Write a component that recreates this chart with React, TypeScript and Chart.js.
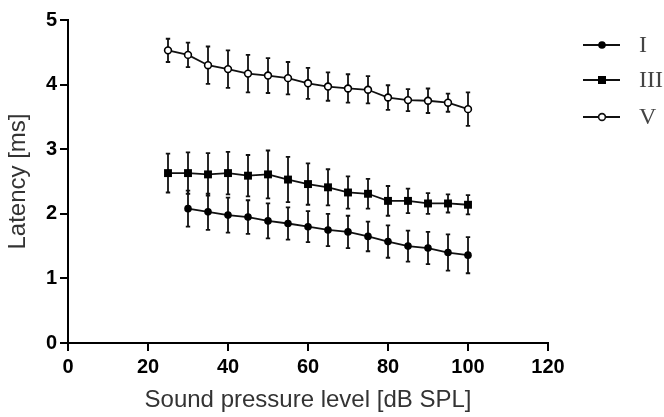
import React, { useEffect, useRef } from "react";
import { Chart, registerables } from "chart.js";

Chart.register(...registerables);

const levels = [25, 30, 35, 40, 45, 50, 55, 60, 65, 70, 75, 80, 85, 90, 95, 100];
const waveI = [null, 2.08, 2.03, 1.98, 1.95, 1.89, 1.85, 1.8, 1.75, 1.72, 1.65, 1.57, 1.5, 1.47, 1.4, 1.36];
const errI = [null, 0.28, 0.28, 0.27, 0.26, 0.27, 0.25, 0.24, 0.25, 0.25, 0.23, 0.25, 0.24, 0.25, 0.28, 0.28];
const waveIII = [2.63, 2.63, 2.61, 2.63, 2.59, 2.61, 2.53, 2.46, 2.41, 2.33, 2.31, 2.2, 2.2, 2.16, 2.16, 2.14];
const errIII = [0.3, 0.32, 0.33, 0.33, 0.32, 0.37, 0.35, 0.32, 0.28, 0.25, 0.23, 0.23, 0.19, 0.16, 0.14, 0.15];
const waveV = [4.53, 4.46, 4.3, 4.24, 4.17, 4.14, 4.1, 4.02, 3.97, 3.94, 3.92, 3.8, 3.76, 3.75, 3.72, 3.62];
const errV = [0.18, 0.19, 0.29, 0.29, 0.29, 0.27, 0.25, 0.24, 0.22, 0.22, 0.21, 0.19, 0.17, 0.19, 0.14, 0.26];
const seriesNames = ["I", "III", "V"];
const xTitle = "Sound pressure level [dB SPL]";
const yTitle = "Latency [ms]";

const SANS = "'Liberation Sans', Arial, sans-serif";

const toPoints = (vals: (number | null)[]) =>
  levels.map((x, i) => ({ x, y: vals[i] })).filter((p) => p.y !== null);

const errorBarPlugin = {
  id: "errorBars",
  beforeDatasetsDraw(chart: any) {
    const { ctx, scales } = chart;
    const xs = scales.x;
    const ys = scales.y;
    const sets = [
      [waveI, errI],
      [waveIII, errIII],
      [waveV, errV],
    ];
    ctx.save();
    ctx.strokeStyle = "#111";
    ctx.lineWidth = 1.8;
    sets.forEach(([vals, errs]) => {
      levels.forEach((lv, i) => {
        const v = vals[i];
        const e = errs[i];
        if (v === null || e === null) return;
        const px = xs.getPixelForValue(lv);
        const top = ys.getPixelForValue((v as number) + (e as number));
        const bot = ys.getPixelForValue((v as number) - (e as number));
        ctx.beginPath();
        ctx.moveTo(px, top);
        ctx.lineTo(px, bot);
        ctx.moveTo(px - 2.2, top);
        ctx.lineTo(px + 2.2, top);
        ctx.moveTo(px - 2.2, bot);
        ctx.lineTo(px + 2.2, bot);
        ctx.stroke();
      });
    });
    ctx.restore();
  },
};

const legendPlugin = {
  id: "customLegend",
  afterDraw(chart: any) {
    const { ctx } = chart;
    const rows = [45, 80, 117];
    ctx.save();
    rows.forEach((y, i) => {
      ctx.strokeStyle = "#111";
      ctx.lineWidth = 1.8;
      ctx.beginPath();
      ctx.moveTo(583, y);
      ctx.lineTo(620, y);
      ctx.stroke();
      const cx = 602;
      ctx.beginPath();
      if (i === 0) {
        ctx.fillStyle = "#000";
        ctx.arc(cx, y, 3.8, 0, Math.PI * 2);
        ctx.fill();
      } else if (i === 1) {
        ctx.fillStyle = "#000";
        ctx.fillRect(cx - 4, y - 4, 8, 8);
      } else {
        ctx.fillStyle = "#fff";
        ctx.lineWidth = 1.6;
        ctx.arc(cx, y, 3.4, 0, Math.PI * 2);
        ctx.fill();
        ctx.stroke();
      }
      ctx.fillStyle = "#444";
      ctx.font = "24px 'Liberation Serif', 'DejaVu Serif', serif";
      ctx.textAlign = "left";
      ctx.textBaseline = "middle";
      ctx.fillText(seriesNames[i], 639, y + 1);
    });
    ctx.restore();
  },
};

export default function App() {
  const ref = useRef<HTMLCanvasElement | null>(null);
  useEffect(() => {
    if (!ref.current) return;
    const common = {
      borderColor: "#111",
      borderWidth: 1.8,
      pointBorderColor: "#000",
      showLine: true,
      tension: 0,
    };
    const chart = new Chart(ref.current, {
      type: "line",
      data: {
        datasets: [
          {
            ...common,
            label: seriesNames[0],
            data: toPoints(waveI) as any,
            pointStyle: "circle",
            pointRadius: 3.8,
            pointBackgroundColor: "#000",
            pointBorderWidth: 0,
          },
          {
            ...common,
            label: seriesNames[1],
            data: toPoints(waveIII) as any,
            pointStyle: "rect",
            pointRadius: 5.6,
            pointBackgroundColor: "#000",
            pointBorderWidth: 0,
          },
          {
            ...common,
            label: seriesNames[2],
            data: toPoints(waveV) as any,
            pointStyle: "circle",
            pointRadius: 3.4,
            pointBackgroundColor: "#fff",
            pointBorderWidth: 1.6,
          },
        ],
      },
      options: {
        animation: false,
        responsive: true,
        maintainAspectRatio: false,
        layout: { padding: { top: 20, right: 116, left: 0, bottom: 0 } },
        plugins: { legend: { display: false }, tooltip: { enabled: false } },
        scales: {
          x: {
            type: "linear",
            min: 0,
            max: 120,
            ticks: {
              stepSize: 20,
              color: "#000",
              font: { family: SANS, size: 20, weight: "bold" },
              padding: 4,
              maxRotation: 0,
            },
            grid: { display: true, drawOnChartArea: false, drawTicks: true, tickLength: 8, color: "#000", lineWidth: 2 },
            border: { display: true, color: "#000", width: 2 },
            title: {
              display: true,
              text: xTitle,
              color: "#333",
              font: { family: SANS, size: 24 },
              padding: { top: 0, bottom: 2 },
            },
            afterFit: (s: any) => {
              s.height = 74;
            },
          },
          y: {
            min: 0,
            max: 5,
            ticks: {
              stepSize: 1,
              color: "#000",
              font: { family: SANS, size: 20, weight: "bold" },
              padding: 3,
            },
            grid: { display: true, drawOnChartArea: false, drawTicks: true, tickLength: 8, color: "#000", lineWidth: 2 },
            border: { display: true, color: "#000", width: 2 },
            title: {
              display: true,
              text: yTitle,
              color: "#333",
              font: { family: SANS, size: 24 },
              padding: { top: 4, bottom: 0 },
            },
            afterFit: (s: any) => {
              s.width = 68;
            },
          },
        },
      } as any,
      plugins: [errorBarPlugin, legendPlugin],
    });
    return () => chart.destroy();
  }, []);
  return (
    <div style={{ position: "fixed", left: 0, top: 0, width: 664, height: 417, background: "#fff" }}>
      <canvas ref={ref} />
    </div>
  );
}
